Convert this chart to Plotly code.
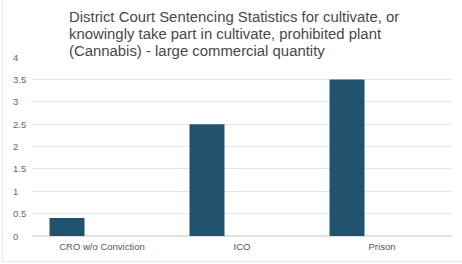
import plotly.graph_objects as go

categories = ["CRO w/o Conviction", "ICO", "Prison"]
values = [0.4, 2.5, 3.5]
y_ticks = [0, 0.5, 1, 1.5, 2, 2.5, 3, 3.5, 4]
y_tick_labels = ["0", "0.5", "1", "1.5", "2", "2.5", "3", "3.5", "4"]
title_lines = ["District Court Sentencing Statistics for cultivate, or",
               "knowingly take part in cultivate, prohibited plant",
               "(Cannabis) - large commercial quantity"]

W, H = 462, 264
ml, mr, mt, mb = 8, 10, 57, 28
pw = W - ml - mr
ph = H - mt - mb

fig = go.Figure(go.Bar(
    x=categories, y=values,
    width=0.25, offset=-0.375,
    marker=dict(color="#21536f", line=dict(width=0)),
    hoverinfo="x+y",
))

annotations = []
# title, one line per annotation for tight line spacing
for i, line in enumerate(title_lines):
    y_px = 17 + i * 17  # centre of line in pixels from top
    annotations.append(dict(
        text=line, xref="paper", yref="paper",
        x=(67 - ml) / pw, xanchor="left",
        y=1 + (mt - y_px) / ph, yanchor="middle",
        showarrow=False, font=dict(size=14.9, color="#484848")))
# left-aligned y tick labels, positioned on the y scale
for v, lab in zip(y_ticks, y_tick_labels):
    annotations.append(dict(
        text=lab, xref="paper", yref="y",
        x=(11 - ml) / pw, xanchor="left", y=v, yanchor="middle",
        showarrow=False, font=dict(size=9.5, color="#666")))

fig.update_layout(
    width=W, height=H,
    margin=dict(l=ml, r=mr, t=mt, b=mb),
    paper_bgcolor="white", plot_bgcolor="white",
    font=dict(family="Liberation Sans, Arial, sans-serif", color="#666", size=10),
    showlegend=False,
    xaxis=dict(domain=[(32 - ml) / pw, 1], showgrid=False, zeroline=False,
               showline=False, ticks="", ticklabelstandoff=3,
               tickfont=dict(size=9.5, color="#555")),
    yaxis=dict(range=[0, 4], tickvals=y_ticks, showticklabels=False, ticks="",
               showline=False, gridcolor="#e6e6e6", gridwidth=1,
               zeroline=True, zerolinecolor="#e0e0e0"),
    annotations=annotations,
    shapes=[dict(type="rect", xref="paper", yref="paper",
                 x0=-(ml - 2.5) / pw, x1=1 + (mr + 5) / pw,
                 y0=-(mb - 2.5) / ph, y1=1 + (mt + 5) / ph,
                 line=dict(color="#e8e8e8", width=1), layer="below")],
)

fig.write_html("out.html")
